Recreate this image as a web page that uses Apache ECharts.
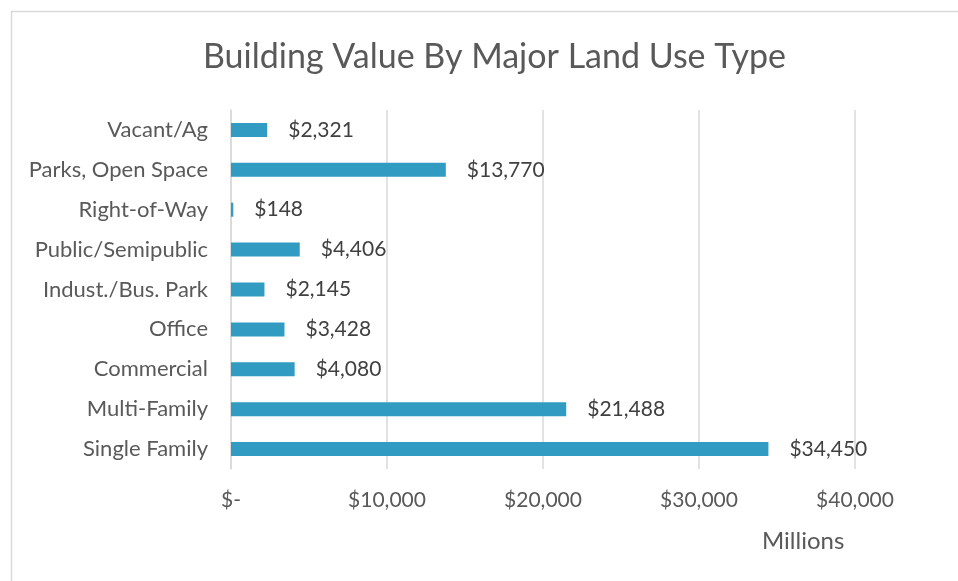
<!DOCTYPE html>
<html>
<head>
<meta charset="utf-8">
<script src="https://cdn.jsdelivr.net/npm/echarts@6/dist/echarts.min.js"></script>
<style>
  html, body { margin: 0; padding: 0; background: #fff; }
  #landUseChart { width: 958px; height: 581px; }
</style>
</head>
<body>
<div id="landUseChart"></div>
<script>
// categories from bottom to top (category axis on y starts at the bottom)
var landUseTypes = ['Single Family', 'Multi-Family', 'Commercial', 'Office', 'Indust./Bus. Park',
  'Public/Semipublic', 'Right-of-Way', 'Parks, Open Space', 'Vacant/Ag'];
var buildingValues = [34450, 21488, 4080, 3428, 2145, 4406, 148, 13770, 2321];
var xTicks = [0, 10000, 20000, 30000, 40000];

var fmtMoney = function (v) {
  if (v === 0) return '$-';
  return '$' + v.toLocaleString('en-US');
};

var chartDom = document.getElementById('landUseChart');
var myChart = echarts.init(chartDom);
var option;
option = {
  backgroundColor: '#fff',
  textStyle: { fontFamily: 'Lato' },
  animation: false,
  graphic: [{
    type: 'rect',
    shape: { x: 11.5, y: 11.5, width: 1000, height: 700 },
    style: { fill: 'none', stroke: '#d9d9d9', lineWidth: 1.5 },
    silent: true
  }],
  title: [{
    text: 'Building Value By Major Land Use Type',
    left: 198,
    top: 35,
    textStyle: { fontFamily: 'Lato', fontSize: 34, fontWeight: 'normal', color: '#595959' }
  }, {
    text: 'Millions',
    left: 757,
    top: 524,
    textStyle: { fontFamily: 'Lato', fontSize: 24, fontWeight: 'normal', color: '#595959' }
  }],
  grid: {
    left: 231,
    right: 103,
    top: 110,
    bottom: 112,
    containLabel: false
  },
  xAxis: {
    type: 'value',
    min: xTicks[0],
    max: xTicks[xTicks.length - 1],
    interval: 10000,
    axisLine: { show: false },
    axisTick: { show: false },
    splitLine: { show: true, lineStyle: { color: '#d9d9d9', width: 1.5 } },
    axisLabel: {
      margin: 21,
      fontSize: 21,
      color: '#595959',
      formatter: function (v) { return fmtMoney(v); }
    }
  },
  yAxis: {
    type: 'category',
    data: landUseTypes,
    axisLine: { show: true, lineStyle: { color: '#d9d9d9', width: 1.5 } },
    axisTick: { show: false },
    axisLabel: {
      margin: 23,
      fontSize: 22,
      color: '#595959'
    }
  },
  series: [{
    name: 'Building Value',
    type: 'bar',
    data: buildingValues,
    barWidth: 14,
    itemStyle: { color: '#319bc1' },
    label: {
      show: true,
      position: 'right',
      distance: 21,
      fontSize: 21,
      color: '#404040',
      formatter: function (params) { return fmtMoney(params.value); }
    }
  }]
};
myChart.setOption(option);
</script>
</body>
</html>
